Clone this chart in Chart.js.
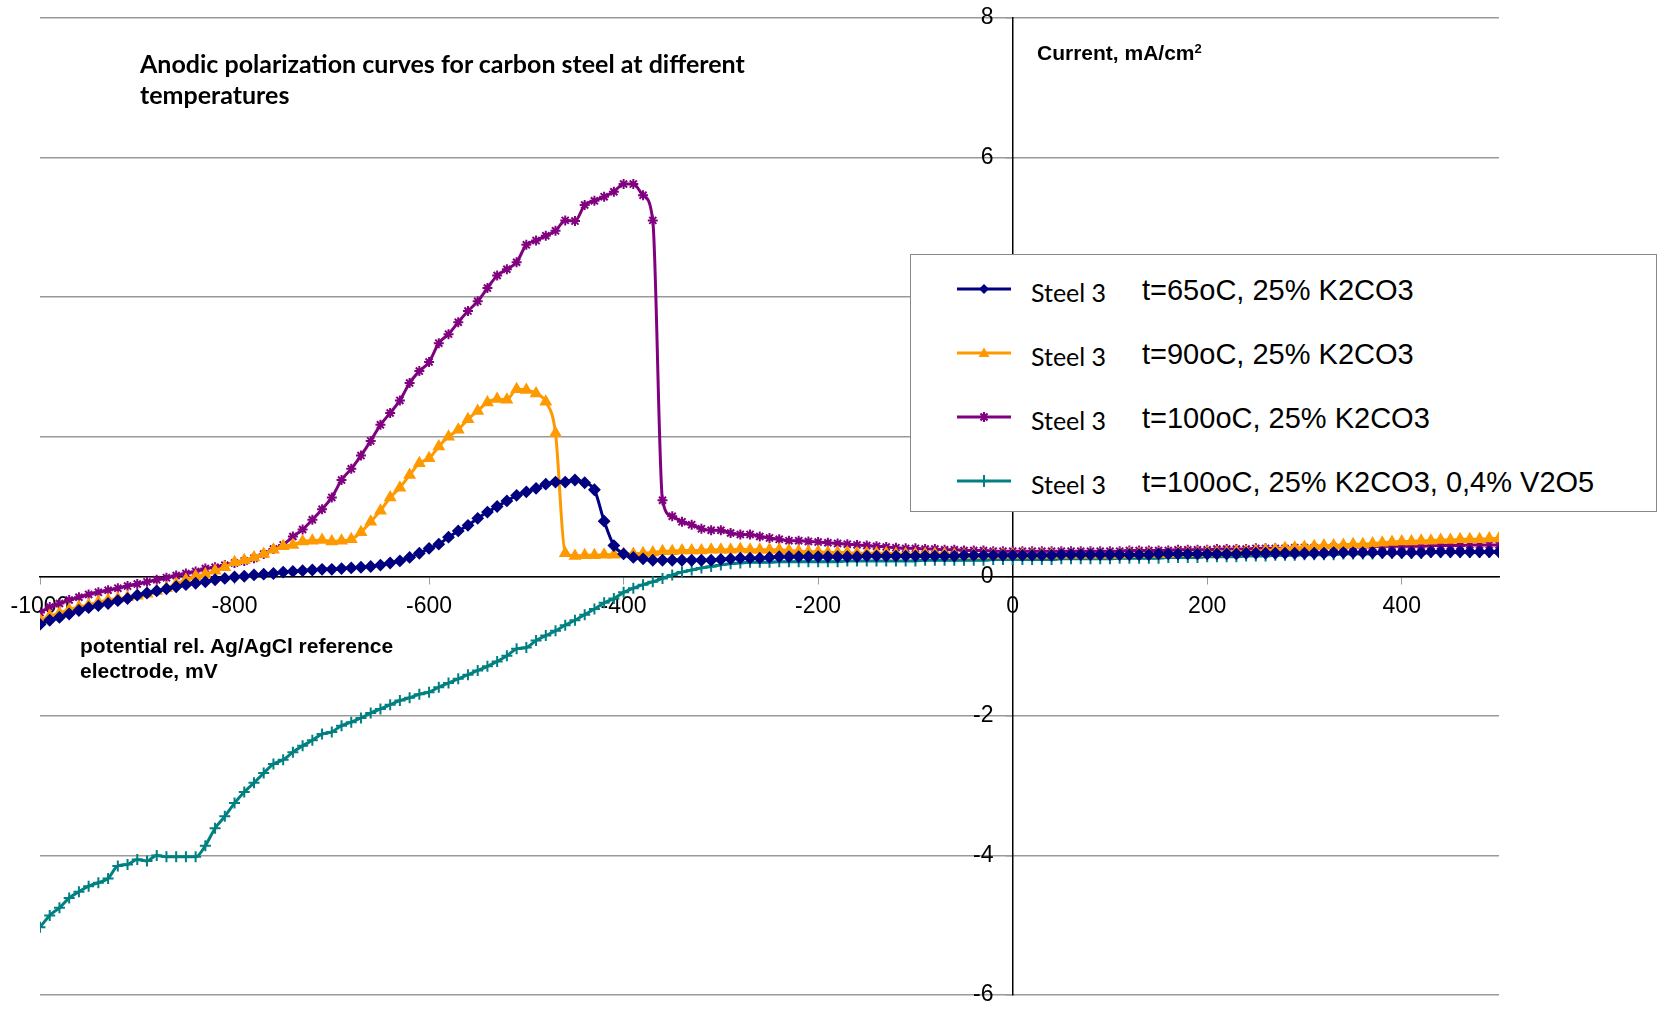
<!DOCTYPE html>
<html>
<head>
  <meta charset="utf-8">
  <script src="https://cdn.jsdelivr.net/npm/chart.js@4.4.0/dist/chart.umd.min.js"></script>
  <style>
    body { margin: 0; background: #fff; }
    .wrap { position: relative; width: 1662px; height: 1012px; overflow: hidden; }
    canvas { position: absolute; left: 0; top: 0; }
    .title { position: absolute; left: 140px; top: 48px; font: bold 25px Lato, sans-serif; line-height: 31px; color: #000; }
    .ytitle { position: absolute; left: 1037px; top: 42px; font: bold 21px "Liberation Sans", Arial, sans-serif; line-height: 22px; }
    .ytitle sup { font-size: 13px; vertical-align: 7px; line-height: 0; }
    .xtitle { position: absolute; left: 80px; top: 633px; font: bold 21px "Liberation Sans", Arial, sans-serif; line-height: 25px; }
    #legend { position: absolute; left: 910px; top: 254px; width: 747px; height: 258px; border: 1px solid #888; background: #fff; box-sizing: border-box; padding-top: 3px; }
    .row { position: relative; height: 64px; }
    .row svg { position: absolute; left: 46px; top: 24px; }
    .row .name { position: absolute; left: 120px; top: 19px; font: 25px Lato, sans-serif; line-height: 30px; }
    .row .cond { position: absolute; left: 231px; top: 15px; font: 29px "Liberation Sans", Arial, sans-serif; line-height: 34px; }
  </style>
</head>
<body>
  <div class="wrap">
    <canvas id="polarChart" width="1662" height="1012"></canvas>
    <div class="title">Anodic polarization curves for carbon steel at different<br>temperatures</div>
    <div class="ytitle">Current, mA/cm<sup>2</sup></div>
    <div class="xtitle">potential rel. Ag/AgCl reference<br>electrode, mV</div>
    <div id="legend"></div>
  </div>

  <script>
    // potential, mV (10 mV steps)
    const potentials = [
      -1000, -990, -980, -970, -960, -950, -940, -930, -920, -910,
      -900, -890, -880, -870, -860, -850, -840, -830, -820, -810,
      -800, -790, -780, -770, -760, -750, -740, -730, -720, -710,
      -700, -690, -680, -670, -660, -650, -640, -630, -620, -610,
      -600, -590, -580, -570, -560, -550, -540, -530, -520, -510,
      -500, -490, -480, -470, -460, -450, -440, -430, -420, -410,
      -400, -390, -380, -370, -360, -350, -340, -330, -320, -310,
      -300, -290, -280, -270, -260, -250, -240, -230, -220, -210,
      -200, -190, -180, -170, -160, -150, -140, -130, -120, -110,
      -100, -90, -80, -70, -60, -50, -40, -30, -20, -10,
      0, 10, 20, 30, 40, 50, 60, 70, 80, 90,
      100, 110, 120, 130, 140, 150, 160, 170, 180, 190,
      200, 210, 220, 230, 240, 250, 260, 270, 280, 290,
      300, 310, 320, 330, 340, 350, 360, 370, 380, 390,
      400, 410, 420, 430, 440, 450, 460, 470, 480, 490,
      500
    ];

    // current density, mA/cm2
    const current65 = [
      -0.69, -0.63, -0.59, -0.54, -0.49, -0.45, -0.42, -0.39, -0.35, -0.32,
      -0.27, -0.24, -0.21, -0.18, -0.15, -0.12, -0.10, -0.08, -0.05, -0.03,
      -0.01, 0.00, 0.02, 0.03, 0.04, 0.06, 0.07, 0.08, 0.09, 0.10,
      0.10, 0.11, 0.12, 0.13, 0.14, 0.16, 0.19, 0.22, 0.27, 0.33,
      0.40, 0.46, 0.56, 0.65, 0.73, 0.83, 0.92, 1.00, 1.08, 1.16,
      1.21, 1.26, 1.32, 1.35, 1.35, 1.38, 1.34, 1.24, 0.79, 0.44,
      0.32, 0.27, 0.25, 0.23, 0.23, 0.23, 0.23, 0.23, 0.23, 0.23,
      0.24, 0.25, 0.26, 0.26, 0.26, 0.27, 0.28, 0.28, 0.28, 0.28,
      0.28, 0.28, 0.28, 0.28, 0.28, 0.29, 0.29, 0.29, 0.29, 0.29,
      0.29, 0.29, 0.29, 0.29, 0.29, 0.30, 0.30, 0.30, 0.30, 0.30,
      0.30, 0.30, 0.30, 0.30, 0.30, 0.31, 0.31, 0.31, 0.31, 0.31,
      0.31, 0.31, 0.31, 0.31, 0.31, 0.32, 0.32, 0.32, 0.32, 0.32,
      0.32, 0.32, 0.32, 0.32, 0.33, 0.33, 0.33, 0.33, 0.33, 0.33,
      0.33, 0.33, 0.33, 0.34, 0.34, 0.34, 0.34, 0.34, 0.34, 0.34,
      0.34, 0.34, 0.34, 0.35, 0.35, 0.35, 0.35, 0.35, 0.35, 0.35,
      0.35
    ];

    const current90 = [
      -0.63, -0.57, -0.53, -0.48, -0.44, -0.41, -0.37, -0.34, -0.32, -0.30,
      -0.28, -0.25, -0.21, -0.17, -0.11, -0.05, 0.00, 0.03, 0.08, 0.13,
      0.20, 0.23, 0.27, 0.32, 0.38, 0.43, 0.45, 0.50, 0.51, 0.52,
      0.50, 0.51, 0.53, 0.63, 0.78, 0.94, 1.13, 1.27, 1.45, 1.62,
      1.69, 1.86, 2.00, 2.10, 2.25, 2.37, 2.49, 2.54, 2.53, 2.68,
      2.67, 2.62, 2.50, 2.05, 0.33, 0.29, 0.30, 0.30, 0.31, 0.31,
      0.32, 0.32, 0.33, 0.34, 0.36, 0.36, 0.37, 0.37, 0.37, 0.38,
      0.38, 0.38, 0.39, 0.38, 0.38, 0.38, 0.38, 0.37, 0.36, 0.35,
      0.35, 0.34, 0.34, 0.34, 0.33, 0.33, 0.33, 0.33, 0.32, 0.32,
      0.32, 0.32, 0.32, 0.32, 0.31, 0.31, 0.31, 0.31, 0.31, 0.31,
      0.31, 0.31, 0.31, 0.31, 0.31, 0.31, 0.31, 0.31, 0.31, 0.31,
      0.31, 0.31, 0.32, 0.32, 0.32, 0.32, 0.32, 0.33, 0.33, 0.33,
      0.34, 0.34, 0.34, 0.35, 0.35, 0.36, 0.37, 0.38, 0.40, 0.41,
      0.42, 0.43, 0.44, 0.44, 0.45, 0.46, 0.46, 0.47, 0.48, 0.49,
      0.50, 0.50, 0.51, 0.51, 0.52, 0.52, 0.53, 0.53, 0.53, 0.54,
      0.54
    ];

    const current100 = [
      -0.52, -0.44, -0.39, -0.34, -0.30, -0.26, -0.23, -0.20, -0.17, -0.14,
      -0.11, -0.08, -0.05, -0.02, 0.01, 0.04, 0.07, 0.11, 0.13, 0.16,
      0.19, 0.22, 0.26, 0.32, 0.39, 0.45, 0.57, 0.67, 0.81, 0.96,
      1.13, 1.38, 1.54, 1.73, 1.94, 2.17, 2.34, 2.52, 2.77, 2.94,
      3.07, 3.34, 3.47, 3.64, 3.80, 3.94, 4.13, 4.31, 4.40, 4.50,
      4.75, 4.81, 4.88, 4.95, 5.10, 5.09, 5.32, 5.38, 5.44, 5.51,
      5.62, 5.62, 5.46, 5.10, 1.09, 0.86, 0.78, 0.74, 0.68, 0.66,
      0.66, 0.62, 0.60, 0.60, 0.57, 0.55, 0.53, 0.51, 0.51, 0.50,
      0.49, 0.48, 0.47, 0.46, 0.45, 0.44, 0.43, 0.42, 0.41, 0.40,
      0.40, 0.39, 0.39, 0.38, 0.38, 0.37, 0.37, 0.37, 0.36, 0.36,
      0.36, 0.36, 0.36, 0.36, 0.36, 0.36, 0.36, 0.36, 0.36, 0.36,
      0.36, 0.36, 0.37, 0.37, 0.37, 0.37, 0.37, 0.38, 0.38, 0.38,
      0.38, 0.39, 0.39, 0.39, 0.39, 0.40, 0.40, 0.40, 0.40, 0.41,
      0.41, 0.41, 0.41, 0.42, 0.42, 0.42, 0.42, 0.42, 0.43, 0.43,
      0.43, 0.43, 0.43, 0.44, 0.44, 0.44, 0.44, 0.45, 0.45, 0.45,
      0.45
    ];

    const current100V = [
      -5.03, -4.86, -4.75, -4.61, -4.52, -4.44, -4.39, -4.33, -4.15, -4.13,
      -4.06, -4.08, -4.00, -4.02, -4.02, -4.02, -4.02, -3.86, -3.61, -3.44,
      -3.25, -3.09, -2.96, -2.82, -2.69, -2.63, -2.52, -2.43, -2.35, -2.26,
      -2.23, -2.14, -2.09, -2.03, -1.96, -1.90, -1.84, -1.78, -1.74, -1.69,
      -1.66, -1.59, -1.53, -1.47, -1.41, -1.35, -1.29, -1.22, -1.14, -1.04,
      -1.02, -0.92, -0.85, -0.78, -0.70, -0.63, -0.55, -0.47, -0.38, -0.32,
      -0.23, -0.17, -0.12, -0.08, -0.03, 0.02, 0.06, 0.09, 0.12, 0.14,
      0.16, 0.18, 0.19, 0.20, 0.20, 0.20, 0.21, 0.21, 0.21, 0.21,
      0.21, 0.21, 0.21, 0.22, 0.22, 0.22, 0.22, 0.22, 0.22, 0.22,
      0.22, 0.23, 0.23, 0.23, 0.23, 0.23, 0.23, 0.23, 0.24, 0.24,
      0.24, 0.24, 0.24, 0.24, 0.24, 0.25, 0.25, 0.25, 0.25, 0.25,
      0.25, 0.26, 0.26, 0.26, 0.26, 0.26, 0.27, 0.27, 0.27, 0.27,
      0.28, 0.28, 0.28, 0.28, 0.29, 0.29, 0.29, 0.30, 0.30, 0.30,
      0.31, 0.31, 0.31, 0.31, 0.32, 0.32, 0.32, 0.32, 0.33, 0.33,
      0.33, 0.33, 0.33, 0.34, 0.34, 0.34, 0.34, 0.34, 0.34, 0.34,
      0.34
    ];

    const seriesNames = ["Steel 3", "Steel 3", "Steel 3", "Steel 3"];
    const seriesConditions = [
      "t=65oC, 25% K2CO3",
      "t=90oC, 25% K2CO3",
      "t=100oC, 25% K2CO3",
      "t=100oC, 25% K2CO3, 0,4% V2O5"
    ];
    const seriesColors = ["#000080", "#ff9900", "#800080", "#008080"];
    const seriesMarkers = ["rectRot", "triangle", "star", "cross"];
    const seriesValues = [current65, current90, current100, current100V];

    const xRange = [-1000, 500];
    const yRange = [-6, 8];

    const tickFont = { family: '"Liberation Sans", Arial, sans-serif', size: 23 };

    // small svg marker for the legend samples
    function markerSvg(style, color) {
      let shape = "";
      if (style === "rectRot") shape = `<path d="M27 2 L32 7 L27 12 L22 7 Z" fill="${color}"/>`;
      if (style === "triangle") shape = `<path d="M27 1.5 L32.5 11 L21.5 11 Z" fill="${color}"/>`;
      if (style === "star") shape = `<path d="M27 2 V12 M22 7 H32 M23.5 3.5 L30.5 10.5 M30.5 3.5 L23.5 10.5" stroke="${color}" stroke-width="2.2"/>`;
      if (style === "cross") shape = `<path d="M27 1 V13 M21 7 H33" stroke="${color}" stroke-width="2"/>`;
      return `<svg width="54" height="14"><line x1="0" y1="7" x2="54" y2="7" stroke="${color}" stroke-width="3"/>${shape}</svg>`;
    }

    const htmlLegend = {
      id: "htmlLegend",
      afterUpdate(chart) {
        const box = document.getElementById("legend");
        box.innerHTML = "";
        chart.data.datasets.forEach((ds, i) => {
          const row = document.createElement("div");
          row.className = "row";
          row.innerHTML = markerSvg(ds.pointStyle, ds.borderColor) +
            `<span class="name">${ds.label}</span><span class="cond">${seriesConditions[i]}</span>`;
          box.appendChild(row);
        });
      }
    };

    const markerRadius = { rectRot: 5, triangle: 5.5, star: 5, cross: 5.5 };

    const datasets = seriesValues.map((vals, i) => ({
      label: seriesNames[i],
      data: potentials.map((p, k) => ({ x: p, y: vals[k] })),
      borderColor: seriesColors[i],
      backgroundColor: seriesColors[i],
      borderWidth: 3,
      pointStyle: seriesMarkers[i],
      pointRadius: markerRadius[seriesMarkers[i]],
      pointBorderWidth: 2,
      cubicInterpolationMode: "monotone",
      fill: false
    }));

    new Chart(document.getElementById("polarChart"), {
      type: "line",
      data: { datasets },
      options: {
        responsive: false,
        animation: false,
        layout: { padding: { left: 40, right: 163, top: 18, bottom: 17 } },
        scales: {
          x: {
            type: "linear",
            min: xRange[0],
            max: xRange[1],
            position: { y: 0 },
            grid: { drawOnChartArea: false, drawTicks: true, tickLength: 7, color: "#999" },
            border: { color: "#000", width: 1.5 },
            ticks: {
              stepSize: 200, includeBounds: false, color: "#000", font: tickFont,
              padding: 10, maxRotation: 0, autoSkip: false,
              callback: (v) => String(v)
            }
          },
          y: {
            type: "linear",
            min: yRange[0],
            max: yRange[1],
            position: { x: 0 },
            grid: { color: "#999", lineWidth: 1.5, drawTicks: true, tickLength: 6 },
            border: { color: "#000", width: 1.5 },
            // labels sit on the axis line, so pad them with trailing spaces
            ticks: { stepSize: 2, color: "#000", font: tickFont, padding: 0, callback: (v) => v + "   " }
          }
        },
        plugins: {
          legend: { display: false },
          tooltip: { enabled: false }
        }
      },
      plugins: [htmlLegend]
    });
  </script>
</body>
</html>
